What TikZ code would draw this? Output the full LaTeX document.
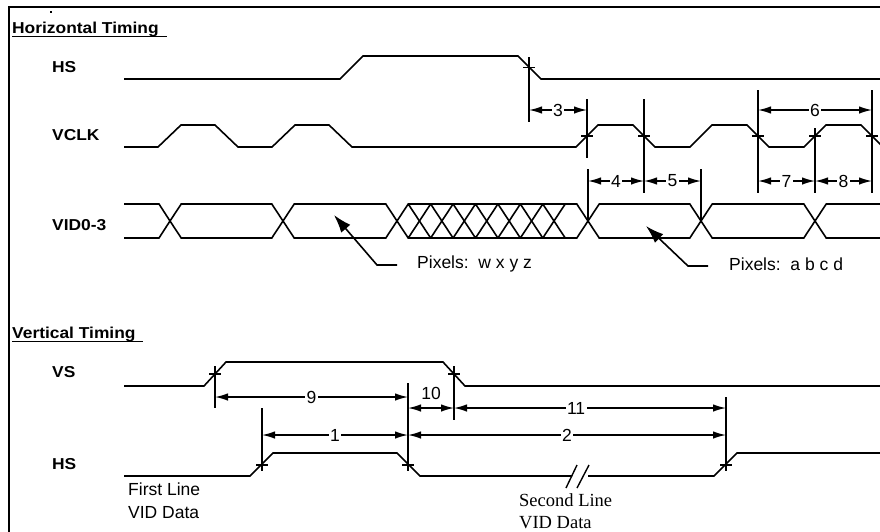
\documentclass[tikz,border=0pt]{standalone}
\usepackage{fontspec}
\setmainfont{Liberation Sans}
\newfontfamily\serifface{Liberation Serif}
\usetikzlibrary{arrows.meta}
\newcommand\widetxt[1]{\scalebox{1.1}[1]{#1}}
\begin{document}
\begin{tikzpicture}[x=1pt,y=-1pt,
  sig/.style={line width=1.6pt},
  tickline/.style={line width=1.4pt},
  dimline/.style={line width=1.4pt,{Latex[length=13pt,width=7.5pt]}-{Latex[length=13pt,width=7.5pt]}},
  ptr/.style={line width=1.6pt,-{Latex[length=18pt,width=12pt]}},
  lbl/.style={inner sep=0pt,anchor=base west,font=\fontsize{15.8}{18}\selectfont\bfseries},
  txt/.style={inner sep=0pt,anchor=base west,font=\fontsize{17.5}{20}\selectfont},
  stxt/.style={inner sep=0pt,anchor=base west,font=\fontsize{18.5}{21}\selectfont\serifface},
  num/.style={fill=white,inner sep=1.5pt,font=\fontsize{17.5}{20}\selectfont},
  ulin/.style={line width=1.6pt},
]
\useasboundingbox (0,0) rectangle (880,531);
\fill[white] (0,0) rectangle (880,531);
\clip (0,0) rectangle (880,531);

% frame
\draw[line width=2.2pt] (9,533) -- (9,7) -- (882,7);
\fill (50,11) rectangle (52,13);

% ---------------- Horizontal timing ----------------
\node[lbl] (htitle) at (12,33) {\widetxt{Horizontal Timing}};
\draw[ulin] (12,36.5) -- (167,36.5);

\node[lbl] (lhs) at (52,72) {\widetxt{HS}};
\node[lbl] (lvclk) at (52,140) {\widetxt{VCLK}};
\node[lbl] (lvid) at (52,230) {\widetxt{VID0-3}};

% HS
\draw[sig] (124,79) -- (340,79) -- (363,56) -- (518,56) -- (541,79) -- (882,79);
% VCLK
\draw[sig] (124,147) -- (158,147) -- (181,125) -- (215,125) -- (238,147) -- (272,147)
  -- (295,125) -- (329,125) -- (352,147) -- (576,147) -- (598,125) -- (633,125)
  -- (655,147) -- (690,147) -- (712,125) -- (747,125) -- (769,147) -- (804,147)
  -- (826,125) -- (861,125) -- (883,147);
% VID0-3
\draw[sig] (124,204) -- (159,204) -- (170,221) -- (159,238) -- (124,238);
\foreach \a/\b in {170/283,283/397,397/419.43,419.43/441.86,441.86/464.29,464.29/486.71,
  486.71/509.14,509.14/531.57,531.57/554,554/588,588/701,701/815}
  \draw[sig] (\a,221) -- (\a+11.2,204) -- (\b-11.2,204) -- (\b,221) -- (\b-11.2,238) -- (\a+11.2,238) -- cycle;
\draw[sig] (408.2,204) -- (565.2,204);
\draw[sig] (408.2,238) -- (565.2,238);
\draw[sig] (882,204) -- (826.2,204) -- (815,221) -- (826.2,238) -- (882,238);

% tick lines and cross marks
\draw[tickline] (529,57) -- (529,122);
\draw[tickline] (523,67.5) -- (535,67.5);
\draw[tickline] (587,99) -- (587,158);
\draw[tickline] (588,169) -- (588,221);
\draw[tickline] (644,99) -- (644,193);
\draw[tickline] (701,169) -- (701,221);
\draw[tickline] (758,90) -- (758,193);
\draw[tickline] (815,128) -- (815,193);
\draw[tickline] (872,90) -- (872,193);
\foreach \x in {587,644,758,815,872}
  \draw[tickline] (\x-6,136) -- (\x+6,136);

% dimensions
\coordinate (d3a) at (529,110); \coordinate (d3b) at (587,110);
\coordinate (d6a) at (758,110); \coordinate (d6b) at (872,110);
\coordinate (d4a) at (588,181); \coordinate (d4b) at (644,181);
\coordinate (d5b) at (701,181);
\coordinate (d7a) at (758,181); \coordinate (d7b) at (815,181);
\coordinate (d8b) at (872,181);
\draw[dimline] (d3a) -- node[num] (n3) {3} (d3b);
\draw[dimline] (d6a) -- node[num] (n6) {6} (d6b);
\draw[dimline] (d4a) -- node[num] (n4) {4} (d4b);
\draw[dimline] (d4b) -- node[num] (n5) {5} (d5b);
\draw[dimline] (d7a) -- node[num] (n7) {7} (d7b);
\draw[dimline] (d7b) -- node[num] (n8) {8} (d8b);

% pixel pointers
\node[txt] (pw) at (417,268) {Pixels:\ \ w x y z};
\coordinate (pwk) at (377,265); \coordinate (pwt) at (334,215);
\draw[ptr] (397,265) -- (pwk) -- (pwt);
\node[txt] (pa) at (729,270) {Pixels:\ \ a b c d};
\coordinate (pak) at (688,266); \coordinate (pat) at (646,226);
\draw[ptr] (708,266) -- (pak) -- (pat);

% ---------------- Vertical timing ----------------
\node[lbl] (vtitle) at (12,338) {\widetxt{Vertical Timing}};
\draw[ulin] (12,341.5) -- (143,341.5);

\node[lbl] (lvs) at (52,377) {\widetxt{VS}};
\node[lbl] (lhs2) at (52,469) {\widetxt{HS}};

% VS
\draw[sig] (124,386) -- (204,386) -- (226,362) -- (443,362) -- (465,386) -- (882,386);
% HS
\draw[sig] (124,476) -- (250,476) -- (273,453) -- (397,453) -- (420,476) -- (572,476);
\draw[sig] (588,476) -- (714,476) -- (737,453) -- (882,453);
\draw[tickline] (566,488) -- (577,465);
\draw[tickline] (577,488) -- (589,465);

% ticks
\draw[tickline] (215,366) -- (215,408);
\draw[tickline] (454,366) -- (454,420);
\draw[tickline] (262,408) -- (262,471);
\draw[tickline] (408,383) -- (408,471);
\draw[tickline] (726,397) -- (726,471);
\foreach \x/\y in {215/374,454/374,262/465,408/465,726/465}
  \draw[tickline] (\x-6,\y) -- (\x+6,\y);

% dimensions
\coordinate (v9a) at (215,397); \coordinate (v9b) at (408,397);
\coordinate (v10a) at (408,408); \coordinate (v10b) at (454,408);
\coordinate (v11b) at (726,408);
\coordinate (v1a) at (262,435); \coordinate (v1b) at (408,435);
\coordinate (v2b) at (726,435);
\draw[dimline] (v9a) -- node[num] (n9) {9} (v9b);
\draw[dimline] (v10a) -- (v10b);
\node[num,fill=none] (n10) at (431,393.5) {10};
\draw[dimline] (v10b) -- node[num,pos=0.449] (n11) {11} (v11b);
\draw[dimline] (v1a) -- node[num] (n1) {1} (v1b);
\draw[dimline] (v1b) -- node[num] (n2) {2} (v2b);

% notes
\node[txt] (fl1) at (128,495) {First Line};
\node[txt] (fl2) at (128,518) {VID Data};
\node[stxt] (sl1) at (519,506) {Second Line};
\node[stxt] (sl2) at (519,528) {VID Data};
\end{tikzpicture}
\end{document}
